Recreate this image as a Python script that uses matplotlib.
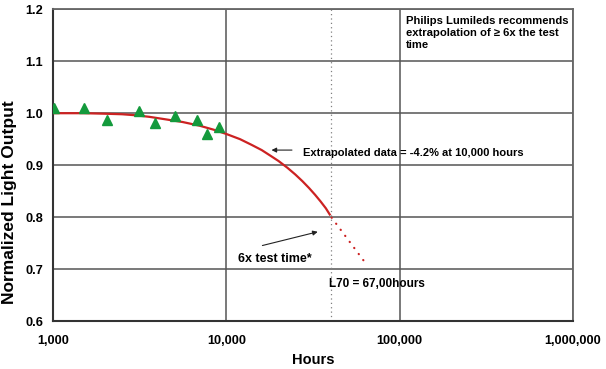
import matplotlib
matplotlib.use("Agg")
import matplotlib.pyplot as plt
from matplotlib.ticker import FixedLocator, NullLocator

plt.rcParams['font.family'] = ['Liberation Sans', 'DejaVu Sans']

# measured data (triangles)
meas_hours = [1017, 1517, 2060, 3150, 3900, 5050, 6800, 7770, 9100]
meas_values = [1.010, 1.010, 0.987, 1.005, 0.981, 0.995, 0.986, 0.960, 0.974]

# fitted curve
fit_hours = [1000, 1500, 2000, 2500, 3000, 3600, 4500, 5600, 7000, 8500,
             10000, 12000, 14000, 16000, 18000, 20000, 22500, 25000, 27500,
             30000, 32500, 35000, 37500, 39500]
fit_values = [1.000, 1.000, 0.999, 0.998, 0.996, 0.993, 0.988, 0.983, 0.976, 0.968,
              0.960, 0.950, 0.939, 0.929, 0.918, 0.908, 0.895, 0.882, 0.869,
              0.856, 0.843, 0.830, 0.817, 0.805]

# extrapolated (dotted) segment
extra_hours = [40500, 64000]
extra_values = [0.799, 0.710]

test_limit = 40000

x_ticks = [1000, 10000, 100000, 1000000]
x_labels = ['1,000', '10,000', '100,000', '1,000,000']
y_ticks = [0.6, 0.7, 0.8, 0.9, 1.0, 1.1, 1.2]
y_labels = ['0.6', '0.7', '0.8', '0.9', '1.0', '1.1', '1.2']

fig = plt.figure(figsize=(6.06, 3.69), dpi=100)
ax = fig.add_axes([53/606, 1-321/369, (573-53)/606, (321-9.3)/369])

ax.set_xscale('log')
ax.set_xlim(1000, 1000000)
ax.set_ylim(0.6, 1.2)
ax.xaxis.set_major_locator(FixedLocator(x_ticks))
ax.xaxis.set_minor_locator(NullLocator())
ax.set_xticks(x_ticks)
ax.set_xticklabels(x_labels, fontsize=9.2, fontweight='bold')
ax.set_yticks(y_ticks)
ax.set_yticklabels(y_labels, fontsize=9.2, fontweight='bold')
ax.tick_params(axis='both', length=0)
ax.tick_params(axis='y', pad=7)
ax.tick_params(axis='x', pad=10)

ax.grid(True, which='major', color='#555555', lw=1.1)
ax.set_axisbelow(True)
for s in ['top', 'right']:
    ax.spines[s].set_color('#666666')
    ax.spines[s].set_linewidth(1.3)
for s in ['left', 'bottom']:
    ax.spines[s].set_color('#333333')
    ax.spines[s].set_linewidth(1.5)

ax.axvline(test_limit, color='#808080', lw=0.9, linestyle=(0, (1, 2.5)), zorder=2)

ax.plot(fit_hours, fit_values, color='#cc2222', lw=1.6, zorder=3)
ax.plot(extra_hours, extra_values, color='#cc2222', lw=1.6,
        linestyle=(0, (0.1, 3.3)), dash_capstyle='round', zorder=3)
ax.plot(meas_hours, meas_values, linestyle='none', marker='^', markersize=6.5,
        color='#139a3c', zorder=4)

ax.set_xlabel('Hours', fontsize=10.5, fontweight='bold')
ax.xaxis.set_label_coords(0.5, -0.125)
ax.xaxis.label.set_va('center')
ax.set_ylabel('Normalized Light Output', fontsize=12.5, fontweight='bold')
ax.yaxis.set_label_coords(-0.083, 0.382)
ax.yaxis.label.set_va('center')

ax.text(108400, 1.188, 'Philips Lumileds recommends\nextrapolation of \u2265 6x the test\ntime',
        fontsize=8.1, fontweight='bold', va='top', ha='left', linespacing=1.3)

ax.annotate('', xy=(17560, 0.929), xytext=(24810, 0.929),
            arrowprops=dict(arrowstyle='-|>', lw=0.8, color='#222222', mutation_scale=7))
ax.text(27730, 0.924, 'Extrapolated data = -4.2% at 10,000 hours',
        fontsize=8, fontweight='bold', va='center', ha='left')

ax.annotate('', xy=(34900, 0.773), xytext=(15580, 0.744),
            arrowprops=dict(arrowstyle='-|>', lw=0.8, color='#222222', mutation_scale=7))
ax.text(11620, 0.720, '6x test time*', fontsize=9, fontweight='bold', va='center', ha='left')

ax.text(39000, 0.672, 'L70 = 67,00hours', fontsize=8.5, fontweight='bold', va='center', ha='left')

fig.savefig('out.png', dpi=100)
